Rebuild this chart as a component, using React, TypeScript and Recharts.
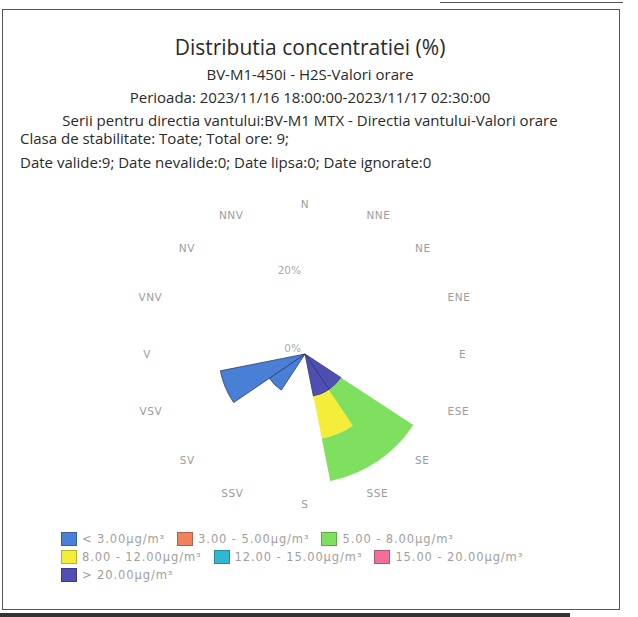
import React from 'react';
import { RadialBarChart, RadialBar, PolarAngleAxis, PolarRadiusAxis, Cell } from 'recharts';

const directions = ['N', 'NNE', 'NE', 'ENE', 'E', 'ESE', 'SE', 'SSE', 'S', 'SSV', 'SV', 'VSV', 'V', 'VNV', 'NV', 'NNV'];

const classKeys = ['c1', 'c2', 'c3', 'c4', 'c5', 'c6', 'c7'];
const classLabels = [
  '< 3.00µg/m³',
  '3.00 - 5.00µg/m³',
  '5.00 - 8.00µg/m³',
  '8.00 - 12.00µg/m³',
  '12.00 - 15.00µg/m³',
  '15.00 - 20.00µg/m³',
  '> 20.00µg/m³',
];
const classColors = ['#4a7fd6', '#f0805e', '#7ee05e', '#f4ee3a', '#2eb8d2', '#f26f98', '#4f4fb3'];

// percent of hours per direction (N ... NNV)
const below3 = [0, 0, 0, 0, 0, 0, 0, 0, 0, 0, 11.11, 22.22, 0, 0, 0, 0];
const from3to5 = [0, 0, 0, 0, 0, 0, 0, 0, 0, 0, 0, 0, 0, 0, 0, 0];
const from5to8 = [0, 0, 0, 0, 0, 0, 22.22, 11.11, 0, 0, 0, 0, 0, 0, 0, 0];
const from8to12 = [0, 0, 0, 0, 0, 0, 0, 11.11, 0, 0, 0, 0, 0, 0, 0, 0];
const from12to15 = [0, 0, 0, 0, 0, 0, 0, 0, 0, 0, 0, 0, 0, 0, 0, 0];
const from15to20 = [0, 0, 0, 0, 0, 0, 0, 0, 0, 0, 0, 0, 0, 0, 0, 0];
const above20 = [0, 0, 0, 0, 0, 0, 11.11, 11.11, 0, 0, 0, 0, 0, 0, 0, 0];

const radiusTicks = [0, 20];

const titleText = 'Distributia concentratiei (%)';
const subtitleLines = [
  'BV-M1-450i - H2S-Valori orare',
  'Perioada: 2023/11/16 18:00:00-2023/11/17 02:30:00',
  'Serii pentru directia vantului:BV-M1 MTX - Directia vantului-Valori orare',
];
const infoLines = [
  'Clasa de stabilitate: Toate; Total ore: 9;',
  'Date valide:9; Date nevalide:0; Date lipsa:0; Date ignorate:0',
];

const seriesValues = [below3, from3to5, from5to8, from8to12, from12to15, from15to20, above20];
const data = directions.map((dir, i) => {
  const row: Record<string, any> = { dir };
  classKeys.forEach((k, j) => {
    row[k] = seriesValues[j][i];
  });
  return row;
});

const CX = 305;
const CY = 354;
const FONT = '"Open Sans", "Noto Sans", sans-serif';
const SMALL_FONT = '"DejaVu Sans", Verdana, sans-serif';
const HALF_SECTOR = 11.25;

const AngleTick = (props: any) => {
  const { x, y, payload } = props;
  const dx = x - CX;
  const dy = y - CY;
  // compass angle of the tick, moved back to the middle of its sector
  const theta = Math.atan2(dx, -dy) - (HALF_SECTOR * Math.PI) / 180;
  const s = Math.sin(theta);
  const lr = 150;
  let px = CX + s * lr;
  const py = CY - Math.cos(theta) * lr;
  let anchor: 'start' | 'end' | 'middle' = 'middle';
  if (s > 0.2) {
    anchor = 'start';
    px += 4;
  } else if (s < -0.2) {
    anchor = 'end';
    px -= 4;
  }
  return (
    <text x={px} y={py} textAnchor={anchor} dominantBaseline="central" fill="#9d9d9d" fontSize={10.5} fontFamily={SMALL_FONT} letterSpacing={0.6}>
      {payload.value}
    </text>
  );
};

const RadiusTick = (props: any) => {
  const { x, y, payload } = props;
  return (
    <text x={x - 4} y={y - 6} textAnchor="end" dominantBaseline="central" fill="#aaaaaa" fontSize={10.5} fontFamily={SMALL_FONT}>
      {`${payload.value}%`}
    </text>
  );
};

export default function App() {
  const stackOrder = [6, 5, 4, 3, 2, 1, 0];
  return (
    <div style={{ position: 'fixed', left: 0, top: 0, width: 638, height: 617, background: '#fff', overflow: 'hidden', fontFamily: FONT }}>
      <div style={{ position: 'absolute', left: 440, top: 2, width: 183, height: 0, borderTop: '1.5px solid #555' }} />
      <div style={{ position: 'absolute', left: 2, top: 9, width: 616, height: 599, border: '1.5px solid #555' }} />
      <div style={{ position: 'absolute', left: 0, top: 613, width: 570, height: 4, background: '#333' }} />

      <div style={{ position: 'absolute', left: 0, width: 620, top: 33, textAlign: 'center', fontSize: 21, lineHeight: '28px', color: '#2a2a2a' }}>
        {titleText}
      </div>
      {subtitleLines.map((t, i) => (
        <div
          key={t}
          style={{
            position: 'absolute',
            left: 0,
            width: 620,
            top: 64 + i * 23,
            textAlign: 'center',
            fontSize: 15,
            lineHeight: '20px',
            color: '#2a2a2a',
          }}
        >
          {t}
        </div>
      ))}
      {infoLines.map((t, i) => (
        <div key={t} style={{ position: 'absolute', left: 20, top: 128 + i * 24, fontSize: 15, lineHeight: '20px', color: '#2a2a2a' }}>
          {t}
        </div>
      ))}

      <RadialBarChart
        width={638}
        height={617}
        cx={CX}
        cy={CY}
        innerRadius={0}
        outerRadius={136}
        startAngle={90 - HALF_SECTOR}
        endAngle={90 - HALF_SECTOR - 360}
        layout="centric"
        data={data}
        barCategoryGap={0}
        barGap={0}
        margin={{ top: 0, right: 0, bottom: 0, left: 0 }}
        style={{ position: 'absolute', left: 0, top: 0 }}
      >
        <PolarAngleAxis type="category" dataKey="dir" tickLine={false} axisLine={false} tick={AngleTick} />
        <PolarRadiusAxis type="number" domain={[0, 35]} ticks={radiusTicks} angle={90} axisLine={false} tickLine={false} tick={RadiusTick} />
        {stackOrder.map((j) => (
          <RadialBar key={classKeys[j]} dataKey={classKeys[j]} stackId="a" fill={classColors[j]} isAnimationActive={false}>
            {data.map((row) => {
              const outlined = (j === 0 || j === 6) && row[classKeys[j]] > 0;
              return (
                <Cell
                  key={`${classKeys[j]}-${row.dir}`}
                  fill={classColors[j]}
                  stroke={outlined ? '#2a3a6a' : 'none'}
                  strokeWidth={outlined ? 0.8 : 0}
                />
              );
            })}
          </RadialBar>
        ))}
      </RadialBarChart>

      <div style={{ position: 'absolute', left: 61, top: 530, width: 540, display: 'flex', flexWrap: 'wrap' }}>
        {classLabels.map((lab, j) => (
          <div key={lab} style={{ display: 'flex', alignItems: 'center', marginRight: 12, height: 18 }}>
            <div style={{ width: 16, height: 14, background: classColors[j], border: '1px solid rgba(0,0,0,0.25)', boxSizing: 'border-box', marginRight: 5 }} />
            <span style={{ fontSize: 11.5, color: '#a0a0a0', whiteSpace: 'nowrap', fontFamily: SMALL_FONT, letterSpacing: 0.9 }}>{lab}</span>
          </div>
        ))}
      </div>
    </div>
  );
}
